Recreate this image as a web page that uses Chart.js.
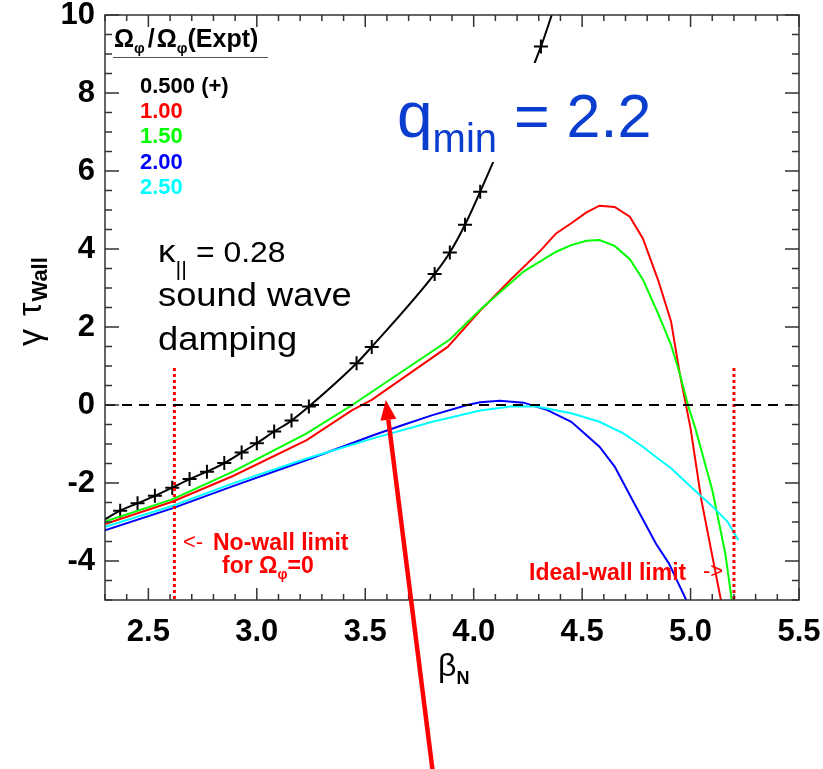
<!DOCTYPE html>
<html>
<head>
<title>Growth rate vs beta_N, q_min = 2.2</title>
<script src="https://cdn.jsdelivr.net/npm/chart.js@4.4.1/dist/chart.umd.min.js"></script>
<style>
  body { margin: 0; background: #fff; }
</style>
</head>
<body>
<canvas id="growthChart" width="823" height="769"></canvas>
<script>
// rotation scan legend (Omega_phi / Omega_phi(Expt))
const rotationLabels = ['0.500 (+)', '1.00', '1.50', '2.00', '2.50'];
const rotationColors = ['#000000', '#ff0000', '#00ff00', '#0000ff', '#00ffff'];

// 0.500 case: markers and the smooth curve through them
const betaBlack = [2.37, 2.45, 2.53, 2.61, 2.69, 2.77, 2.85, 2.93, 3.00, 3.08, 3.16, 3.24, 3.46, 3.53, 3.82, 3.89, 3.96, 4.03, 4.31];
const gammaBlack = [-2.71, -2.52, -2.33, -2.12, -1.90, -1.71, -1.49, -1.22, -0.98, -0.68, -0.40, -0.04, 1.07, 1.49, 3.36, 3.91, 4.62, 5.47, 9.19];
const blackStart = [2.30, -2.93];
const blackEnd = [4.36, 10.0];

// 1.00
const betaRed = [2.30, 2.61, 2.89, 3.23, 3.44, 3.53, 3.88, 4.03, 4.17, 4.31, 4.38, 4.45, 4.52, 4.58, 4.65, 4.72, 4.78, 4.85, 4.91, 4.95, 5.00, 5.05, 5.11, 5.14];
const gammaRed = [-3.05, -2.48, -1.82, -0.90, -0.13, 0.13, 1.49, 2.42, 3.21, 3.97, 4.40, 4.66, 4.94, 5.11, 5.08, 4.83, 4.27, 3.21, 2.14, 0.81, -0.60, -2.44, -4.15, -5.0];

// 1.50
const betaGreen = [2.30, 2.61, 2.89, 3.23, 3.44, 3.89, 4.03, 4.23, 4.38, 4.45, 4.52, 4.58, 4.65, 4.72, 4.78, 4.85, 4.91, 4.95, 4.99, 5.02, 5.10, 5.16, 5.19];
const gammaGreen = [-2.99, -2.42, -1.71, -0.73, 0.0, 1.68, 2.44, 3.42, 3.93, 4.10, 4.21, 4.23, 4.08, 3.74, 3.22, 2.35, 1.54, 0.81, -0.04, -0.56, -2.18, -3.80, -5.0];

// 2.00
const betaBlue = [2.30, 2.61, 2.89, 3.23, 3.54, 3.66, 3.81, 3.97, 4.03, 4.12, 4.23, 4.34, 4.45, 4.58, 4.65, 4.74, 4.84, 4.90, 4.98];
const gammaBlue = [-3.21, -2.65, -2.08, -1.41, -0.77, -0.54, -0.26, 0.0, 0.07, 0.11, 0.06, -0.13, -0.43, -1.07, -1.58, -2.52, -3.55, -4.06, -5.0];

// 2.50
const betaCyan = [2.30, 2.61, 2.89, 3.23, 3.54, 3.81, 4.03, 4.18, 4.29, 4.45, 4.58, 4.69, 4.78, 4.85, 4.91, 5.00, 5.11, 5.17, 5.22];
const gammaCyan = [-3.12, -2.59, -2.01, -1.37, -0.85, -0.43, -0.14, -0.03, -0.04, -0.21, -0.43, -0.73, -1.07, -1.37, -1.62, -2.09, -2.65, -2.99, -3.46];

// limits and reference lines
const noWallLimit = 2.62;
const idealWallLimit = 5.20;
const limitSpan = [0.95, -5.0];
const zeroSpan = [2.30, 5.47];

// big arrow pointing at the marginal point (tail below the plot)
const arrowFrom = [3.81, -9.35];
const arrowTo = [3.595, 0.13];

const xRange = [2.3, 5.5];
const yRange = [-5, 10];

const pts = (xs, ys) => xs.map((x, i) => ({ x: x, y: ys[i] }));
const isHalf = v => Math.abs(v * 2 - Math.round(v * 2)) < 1e-6;
const isEven = v => Math.abs(v / 2 - Math.round(v / 2)) < 1e-6;

// draw a run of text pieces (for sub/superscripts)
function drawParts(ctx, x, y, parts, color) {
    ctx.fillStyle = color;
    ctx.textBaseline = 'alphabetic';
    ctx.textAlign = 'left';
    let cx = x;
    parts.forEach(p => {
        ctx.font = p.font;
        if (p.gap) cx += p.gap;
        ctx.fillText(p.t, cx, y + (p.dy || 0));
        cx += ctx.measureText(p.t).width;
    });
}

const decorations = {
    id: 'decorations',
    afterDatasetsDraw(chart) {
        const { ctx, chartArea: a, scales: { x, y } } = chart;
        ctx.save();

        // white box behind q_min label (curve is hidden there)
        ctx.fillStyle = '#ffffff';
        ctx.fillRect(390, 63, 272, 99);

        // frame and inward ticks on all four sides
        ctx.strokeStyle = '#333333';
        ctx.lineWidth = 1.5;
        ctx.strokeRect(a.left, a.top, a.right - a.left, a.bottom - a.top);
        ctx.beginPath();
        x.ticks.forEach(t => {
            const px = x.getPixelForValue(t.value);
            const len = isHalf(t.value) ? 12 : 6;
            ctx.moveTo(px, a.bottom); ctx.lineTo(px, a.bottom - len);
            ctx.moveTo(px, a.top); ctx.lineTo(px, a.top + len);
        });
        y.ticks.forEach(t => {
            const py = y.getPixelForValue(t.value);
            const len = isEven(t.value) ? 14 : 7;
            ctx.moveTo(a.left, py); ctx.lineTo(a.left + len, py);
            ctx.moveTo(a.right, py); ctx.lineTo(a.right - len, py);
        });
        ctx.stroke();

        // arrow
        const x0 = x.getPixelForValue(arrowFrom[0]), y0 = y.getPixelForValue(arrowFrom[1]);
        const x1 = x.getPixelForValue(arrowTo[0]), y1 = y.getPixelForValue(arrowTo[1]);
        const ang = Math.atan2(y1 - y0, x1 - x0);
        const hl = 20, hw = 8;
        const bx = x1 - hl * Math.cos(ang), by = y1 - hl * Math.sin(ang);
        ctx.strokeStyle = '#ff0000';
        ctx.lineWidth = 4.5;
        ctx.beginPath();
        ctx.moveTo(x0, y0); ctx.lineTo(bx, by);
        ctx.stroke();
        ctx.fillStyle = '#ff0000';
        ctx.beginPath();
        ctx.moveTo(x1, y1);
        ctx.lineTo(bx + hw * Math.sin(ang), by - hw * Math.cos(ang));
        ctx.lineTo(bx - hw * Math.sin(ang), by + hw * Math.cos(ang));
        ctx.closePath();
        ctx.fill();

        const B = 'bold ';
        const fam = 'px "Liberation Sans", Arial, sans-serif';

        // legend title + entries
        drawParts(ctx, 114, 47, [
            { t: 'Ω', font: B + 25 + fam },
            { t: 'φ', font: B + 15 + fam, dy: 6 },
            { t: '/', font: B + 25 + fam, gap: 3 },
            { t: 'Ω', font: B + 25 + fam, gap: 2 },
            { t: 'φ', font: B + 15 + fam, dy: 6 },
            { t: '(Expt)', font: B + 25 + fam }
        ], '#000000');
        ctx.strokeStyle = '#555555';
        ctx.lineWidth = 1;
        ctx.beginPath();
        ctx.moveTo(113, 57.5); ctx.lineTo(268, 57.5);
        ctx.stroke();
        rotationLabels.forEach((lab, i) => {
            drawParts(ctx, 140, 93 + i * 25.2, [{ t: lab, font: B + 22 + fam }], rotationColors[i]);
        });

        // kappa / sound wave damping
        ctx.save();
        ctx.translate(158, 262);
        ctx.scale(1.1, 1);
        drawParts(ctx, 0, 0, [
            { t: 'κ', font: 32 + fam },
            { t: '||', font: 20 + fam, dy: 14 },
            { t: ' = 0.28', font: 29 + fam }
        ], '#000000');
        ctx.restore();
        ctx.save();
        ctx.translate(158, 306);
        ctx.scale(1.1, 1);
        drawParts(ctx, 0, 0, [{ t: 'sound wave', font: 33 + fam }], '#000000');
        drawParts(ctx, 0, 44, [{ t: 'damping', font: 33 + fam }], '#000000');
        ctx.restore();

        // q_min label
        drawParts(ctx, 397, 137, [
            { t: 'q', font: 64 + fam },
            { t: 'min', font: 40 + fam, dy: 15 },
            { t: ' = 2.2', font: 61 + fam }
        ], '#0b3dcf');

        // limit labels
        drawParts(ctx, 183, 549, [{ t: '<-', font: 22 + fam }], '#ff0000');
        drawParts(ctx, 213, 550, [{ t: 'No-wall limit', font: B + 23 + fam }], '#ff0000');
        drawParts(ctx, 222, 573, [
            { t: 'for Ω', font: B + 23 + fam },
            { t: 'φ', font: B + 14 + fam, dy: 6 },
            { t: '=0', font: B + 23 + fam }
        ], '#ff0000');
        drawParts(ctx, 529, 580, [{ t: 'Ideal-wall limit', font: B + 23 + fam }], '#ff0000');
        drawParts(ctx, 703, 578, [{ t: '->', font: 22 + fam }], '#ff0000');

        // axis titles
        drawParts(ctx, 438, 676, [
            { t: 'β', font: 32 + fam },
            { t: 'N', font: B + 18 + fam, dy: 8 }
        ], '#000000');
        ctx.save();
        ctx.translate(41, 346);
        ctx.rotate(-Math.PI / 2);
        drawParts(ctx, 0, 0, [
            { t: 'γ', font: 34 + fam },
            { t: 'τ', font: 34 + fam, gap: 13 },
            { t: 'Wall', font: B + 22 + fam, dy: 6, gap: 1 }
        ], '#000000');
        ctx.restore();

        ctx.restore();
    }
};

const lineSet = (xs, ys, color) => ({
    data: pts(xs, ys),
    showLine: true,
    borderColor: color,
    borderWidth: 2,
    pointRadius: 0,
    tension: 0
});

const datasets = [
    // zero reference
    {
        data: pts(zeroSpan, [0, 0]),
        showLine: true, borderColor: '#000000', borderWidth: 2,
        borderDash: [10, 7], pointRadius: 0
    },
    // no-wall / ideal-wall limits
    {
        data: pts([noWallLimit, noWallLimit], limitSpan),
        showLine: true, borderColor: '#ff0000', borderWidth: 3,
        borderDash: [3, 3], pointRadius: 0
    },
    {
        data: pts([idealWallLimit, idealWallLimit], limitSpan),
        showLine: true, borderColor: '#ff0000', borderWidth: 3,
        borderDash: [3, 3], pointRadius: 0
    },
    lineSet(betaCyan, gammaCyan, rotationColors[4]),
    lineSet(betaBlue, gammaBlue, rotationColors[3]),
    lineSet(betaGreen, gammaGreen, rotationColors[2]),
    lineSet(betaRed, gammaRed, rotationColors[1]),
    {
        data: pts([blackStart[0], ...betaBlack, blackEnd[0]], [blackStart[1], ...gammaBlack, blackEnd[1]]),
        showLine: true, borderColor: '#000000', borderWidth: 2,
        pointRadius: 0, cubicInterpolationMode: 'monotone'
    },
    {
        data: pts(betaBlack, gammaBlack),
        showLine: false, pointStyle: 'cross', pointRadius: 7,
        borderColor: '#000000', borderWidth: 2
    }
];

const tickFont = { family: '"Liberation Sans", Arial, sans-serif', size: 31, weight: 'bold' };

new Chart(document.getElementById('growthChart'), {
    type: 'scatter',
    data: { datasets: datasets },
    options: {
        responsive: false,
        animation: false,
        layout: { padding: { left: 0, top: 15, right: 24, bottom: 0 } },
        plugins: { legend: { display: false }, tooltip: { enabled: false } },
        scales: {
            x: {
                type: 'linear', min: xRange[0], max: xRange[1],
                afterFit: s => { s.height = 169; s.paddingLeft = 0; s.paddingRight = 0; },
                grid: { display: false, drawTicks: false },
                border: { display: false },
                ticks: {
                    stepSize: 0.1, autoSkip: false, maxRotation: 0, padding: 14,
                    color: '#000000', font: tickFont,
                    callback: v => isHalf(v) ? v.toFixed(1) : ''
                }
            },
            y: {
                type: 'linear', min: yRange[0], max: yRange[1],
                afterFit: s => { s.width = 105; s.paddingTop = 0; s.paddingBottom = 0; },
                grid: { display: false, drawTicks: false },
                border: { display: false },
                ticks: {
                    stepSize: 0.5, autoSkip: false, padding: 10,
                    color: '#000000', font: tickFont,
                    callback: v => (isEven(v) && v > yRange[0]) ? String(Math.round(v)) : ''
                }
            }
        }
    },
    plugins: [decorations]
});
</script>
</body>
</html>
